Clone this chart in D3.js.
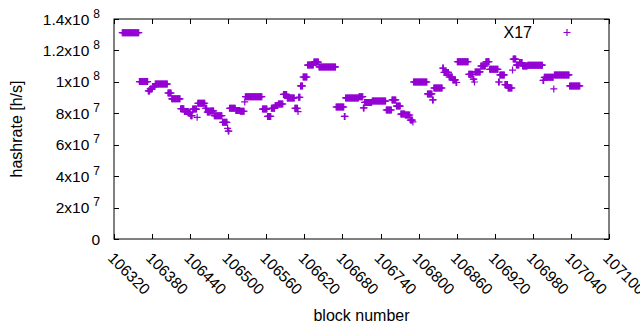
<!DOCTYPE html>
<html><head><meta charset="utf-8">
<script src="https://cdn.jsdelivr.net/npm/d3@7"></script>
<style>
body{margin:0;background:#fff}
svg{display:block}
text{font-family:"Liberation Sans",Arial,sans-serif;fill:#000}
</style>
</head><body>
<svg id="chart" width="640" height="330"></svg>
<script>
// ---- data (run-length: each run = consecutive blocks with the same hashrate) ----
const seriesName = "X17";
const runStart = [106333,106360,106374,106377,106381,106385,106405,106411,106425,106431,106438,106441,106444,106451,106452,106464,106467,106472,106478,106491,106499,106500,106502,106512,106519,106526,106527,106554,106562,106568,106574,106579,106587,106593,106605,106610,106611,106614,106618,106625,106635,106643,106670,106683,106685,106706,106713,106715,106727,106749,106758,106765,106772,106779,106787,106791,106792,106814,106822,106824,106838,106840,106848,106854,106859,106861,106879,106886,106888,106889,106898,106906,106912,106926,106928,106936,106941,106948,106949,106954,106959,106964,106972,106996,106998,107013,107014,107038];
const runEnd   = [106359,106373,106376,106380,106384,106404,106410,106424,106430,106437,106440,106443,106450,106451,106463,106466,106471,106477,106490,106498,106499,106501,106511,106518,106525,106526,106553,106561,106567,106573,106578,106586,106592,106604,106609,106610,106613,106617,106624,106634,106642,106669,106682,106684,106705,106712,106714,106726,106748,106757,106764,106771,106778,106786,106790,106791,106813,106821,106823,106837,106839,106847,106853,106858,106860,106878,106885,106887,106888,106897,106905,106911,106925,106927,106935,106940,106947,106948,106953,106958,106963,106971,106995,106997,107012,107013,107037,107054];
const runHashrate = [131.3e6,100.2e6,94.2e6,95.5e6,97.0e6,98.6e6,92.9e6,89.2e6,82.9e6,81.1e6,80.2e6,78.5e6,82.7e6,77.4e6,86.4e6,83.2e6,80.8e6,81.5e6,78.5e6,74.3e6,70.4e6,68.7e6,83.2e6,81.8e6,81.3e6,87.2e6,90.6e6,82.7e6,78.0e6,83.2e6,85.0e6,85.9e6,92.0e6,89.7e6,83.2e6,81.1e6,90.2e6,97.4e6,103.1e6,110.7e6,112.6e6,109.5e6,84.0e6,78.0e6,89.8e6,90.6e6,83.4e6,86.9e6,87.8e6,82.1e6,88.5e6,84.6e6,79.5e6,78.9e6,75.7e6,74.5e6,99.9e6,92.3e6,88.5e6,96.1e6,108.8e6,106.0e6,103.1e6,101.2e6,99.6e6,112.8e6,104.8e6,101.8e6,99.9e6,106.3e6,110.1e6,112.8e6,108.0e6,99.9e6,104.4e6,98.3e6,96.1e6,107.5e6,114.5e6,110.7e6,112.3e6,110.1e6,110.6e6,100.9e6,102.9e6,95.5e6,104.4e6,97.4e6];

const xTickValues = [106320,106380,106440,106500,106560,106620,106680,106740,106800,106860,106920,106980,107040,107100];
const yTickValues = [0,2e7,4e7,6e7,8e7,1e8,1.2e8,1.4e8];
const yTickMantissa = ["0","2x10","4x10","6x10","8x10","1x10","1.2x10","1.4x10"];
const yTickExponent = ["","7","7","7","7","8","8","8"];
const xLabel = "block number";
const yLabel = "hashrate [h/s]";

// ---- layout ----
const L = 114, R = 609, T = 19, B = 239;
const color = "#9400d3";
const svg = d3.select("#chart");

const x = d3.scaleLinear().domain([106320, 107100]).range([L, R]);
const y = d3.scaleLinear().domain([0, 1.4e8]).range([B, T]);

// expand runs into per-block points
const points = [];
runStart.forEach((s, i) => {
  for (let b = s; b <= runEnd[i]; b++) points.push({block: b, value: runHashrate[i]});
});

const arm = 3.5;
const plus = (px, py) => `M${px-arm},${py}H${px+arm}M${px},${py-arm}V${py+arm}`;

// points
svg.append("g").selectAll("path").data(points).join("path")
  .attr("d", d => plus(x(d.block), y(d.value)))
  .attr("stroke", color).attr("stroke-width", 1.2).attr("fill", "none");

// frame
svg.append("rect").attr("x", L).attr("y", T).attr("width", R - L).attr("height", B - T)
  .attr("fill", "none").attr("stroke", "#000").attr("stroke-width", 1);

const tk = 5;
const ticks = svg.append("g").attr("stroke", "#000").attr("stroke-width", 1);
xTickValues.forEach(v => {
  const px = Math.round(x(v)) + 0.5;
  ticks.append("line").attr("x1", px).attr("x2", px).attr("y1", B).attr("y2", B - tk);
  ticks.append("line").attr("x1", px).attr("x2", px).attr("y1", T).attr("y2", T + tk);
});
yTickValues.forEach(v => {
  const py = Math.round(y(v)) + 0.5;
  ticks.append("line").attr("x1", L).attr("x2", L + tk).attr("y1", py).attr("y2", py);
  ticks.append("line").attr("x1", R).attr("x2", R - tk).attr("y1", py).attr("y2", py);
});

// x tick labels (rotated)
xTickValues.forEach(v => {
  svg.append("text")
    .attr("transform", `translate(${x(v) - 7},${B + 20}) rotate(45)`)
    .attr("font-size", 15.5)
    .text(v);
});

// y tick labels with superscript exponents
yTickValues.forEach((v, i) => {
  const t = svg.append("text")
    .attr("x", 100).attr("y", y(v) + 5.5)
    .attr("text-anchor", "end").attr("font-size", 15.5);
  t.append("tspan").text(yTickMantissa[i]);
  if (yTickExponent[i]) {
    t.append("tspan").attr("dx", 4).attr("dy", -7).attr("font-size", 12).text(yTickExponent[i]);
  }
});

// axis titles
svg.append("text").attr("x", (L + R) / 2).attr("y", 321).attr("text-anchor", "middle")
  .attr("font-size", 16).text(xLabel);
svg.append("text").attr("transform", `translate(22,${(T + B) / 2}) rotate(-90)`)
  .attr("text-anchor", "middle").attr("font-size", 16).text(yLabel);

// legend
svg.append("text").attr("x", 532).attr("y", 37.5).attr("text-anchor", "end")
  .attr("font-size", 16).text(seriesName);
svg.append("path").attr("d", plus(567, 32.5)).attr("stroke", color)
  .attr("stroke-width", 1.2).attr("fill", "none");
</script>
</body></html>
